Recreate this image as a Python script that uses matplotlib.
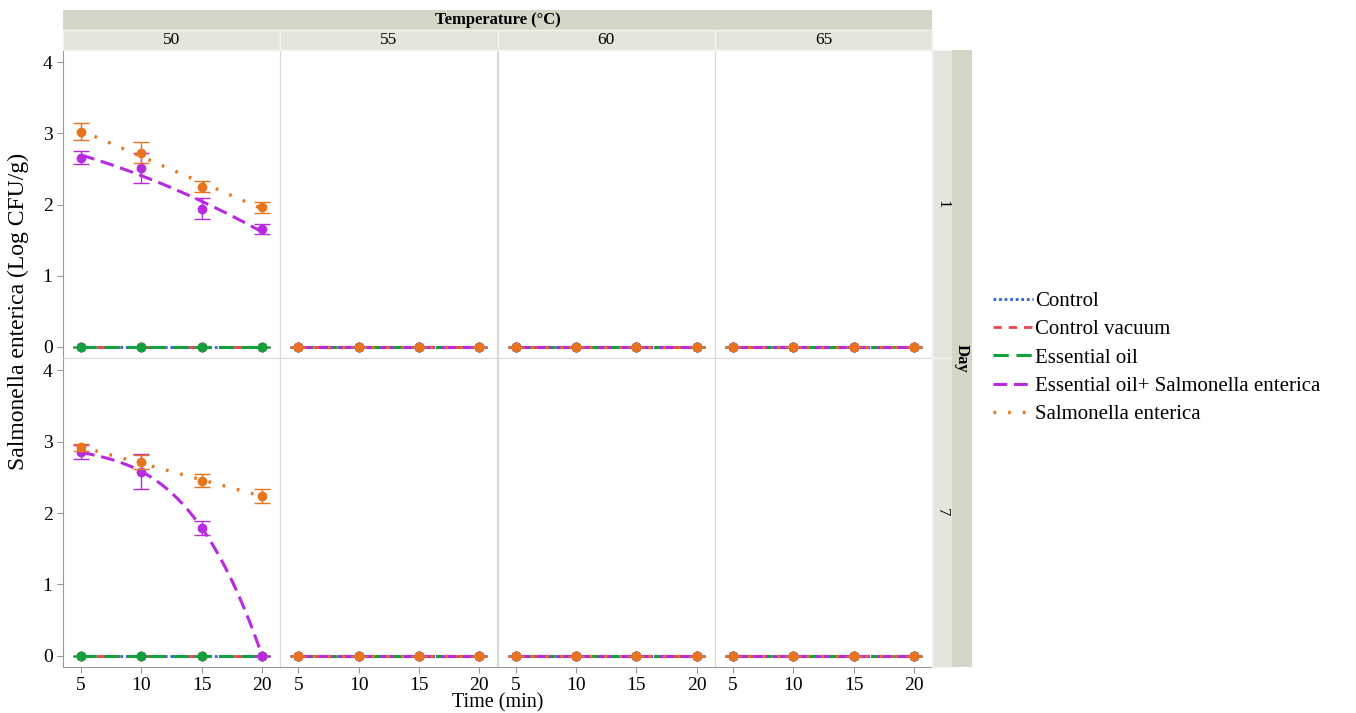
import numpy as np
import matplotlib.pyplot as plt
from matplotlib.lines import Line2D
from matplotlib.patches import Rectangle

plt.rcParams['font.family'] = ['Liberation Serif', 'DejaVu Serif']

# ---- data ----
temps = [50, 55, 60, 65]
days = [1, 7]
times = np.array([5, 10, 15, 20])
series = ['Control', 'Control vacuum', 'Essential oil',
          'Essential oil+ Salmonella enterica', 'Salmonella enterica']

# means at 50 C (everything else is zero)
eo_sal_d1 = [2.66, 2.51, 1.94, 1.65]
eo_sal_d1_sd = [0.09, 0.21, 0.15, 0.07]
sal_d1 = [3.02, 2.73, 2.25, 1.96]
sal_d1_sd = [0.12, 0.15, 0.08, 0.08]
eo_sal_d7 = [2.85, 2.58, 1.79, 0.0]
eo_sal_d7_sd = [0.10, 0.24, 0.10, 0.0]
sal_d7 = [2.92, 2.71, 2.45, 2.24]
sal_d7_sd = [0.05, 0.10, 0.09, 0.10]
zeros = [0.0, 0.0, 0.0, 0.0]

colors = ['#2E62DA', '#EE4350', '#12A13C', '#B82AE0', '#E8751E']
styles = [dict(dashes=(1.0, 1.0), lw=2.0),
          dict(dashes=(3.0, 2.5), lw=2.0),
          dict(dashes=(5.0, 2.5), lw=2.2),
          dict(dashes=(4.5, 2.2), lw=2.2),
          dict(dashes=(0.8, 3.6), lw=2.4)]


def get_data(temp, day):
    means = [zeros, zeros, zeros, zeros, zeros]
    sds = [zeros, zeros, zeros, zeros, zeros]
    deg = [2, 2, 2, 2, 2]
    if temp == 50:
        if day == 1:
            means[3], sds[3] = eo_sal_d1, eo_sal_d1_sd
            means[4], sds[4] = sal_d1, sal_d1_sd
        else:
            means[3], sds[3] = eo_sal_d7, eo_sal_d7_sd
            means[4], sds[4] = sal_d7, sal_d7_sd
            deg[3] = 3
    return means, sds, deg


W, H = 1356, 713
fig = plt.figure(figsize=(W / 100, H / 100), dpi=100)


def fx(px):
    return px / W


def fy(py):
    return 1 - py / H


left, right = 63, 932
col_w = (right - left) / 4
row_edges = [(50, 358), (358, 667)]
light = '#E5E5DD'
dark = '#D6D6C8'

xs = np.linspace(5, 20, 100)
for r, day in enumerate(days):
    top, bot = row_edges[r]
    for c, temp in enumerate(temps):
        ax = fig.add_axes([fx(left + c * col_w), fy(bot), col_w / W, (bot - top) / H])
        means, sds, deg = get_data(temp, day)
        for i in range(5):
            m = np.array(means[i])
            # smooth trend through the means
            fit = np.polyfit(times, m, deg[i])
            ax.plot(xs, np.polyval(fit, xs), color=colors[i], zorder=2 + i,
                    **styles[i])
            ax.errorbar(times, m, yerr=sds[i], fmt='o', color=colors[i], ms=6,
                        capsize=6, elinewidth=1.0, capthick=1.0, zorder=2.5 + i)
        ax.set_xlim(3.5, 21.5)
        ax.set_ylim(-0.155, 4.17)
        ax.set_xticks(times)
        ax.set_yticks([0, 1, 2, 3, 4])
        ax.tick_params(colors='#999999', labelcolor='black', labelsize=14,
                       length=4, width=0.8)
        for s in ['top', 'right']:
            ax.spines[s].set_color('#D9D9D9')
        ax.spines['left'].set_color('#D9D9D9' if c > 0 else '#999999')
        ax.spines['bottom'].set_color('#D9D9D9' if r == 0 else '#999999')
        if c > 0:
            ax.tick_params(axis='y', left=False, labelleft=False)
        if r == 0:
            ax.tick_params(axis='x', bottom=False, labelbottom=False)

# strips on top
fig.patches.append(Rectangle((fx(left), fy(30)), (right - left) / W, 20 / H,
                             transform=fig.transFigure, fc=dark, ec='none'))
fig.text(fx((left + right) / 2), fy(20), 'Temperature (\u00b0C)', ha='center',
         va='center', fontsize=12, fontweight='bold')
for c, temp in enumerate(temps):
    x0 = left + c * col_w
    fig.patches.append(Rectangle((fx(x0), fy(50)), col_w / W, 20 / H,
                                 transform=fig.transFigure, fc=light,
                                 ec='#F4F4F0', lw=1))
    fig.text(fx(x0 + col_w / 2), fy(40), str(temp), ha='center', va='center',
             fontsize=12.5)

# strips on right
for r, day in enumerate(days):
    top, bot = row_edges[r]
    fig.patches.append(Rectangle((fx(right), fy(bot)), 20 / W, (bot - top) / H,
                                 transform=fig.transFigure, fc=light,
                                 ec='#F4F4F0', lw=1))
    fig.text(fx(right + 10), fy((top + bot) / 2), str(day), ha='center',
             va='center', fontsize=12, rotation=-90)
fig.patches.append(Rectangle((fx(952), fy(667)), 20 / W, 617 / H,
                             transform=fig.transFigure, fc=dark, ec='none'))
fig.text(fx(962), fy(358), 'Day', ha='center', va='center', fontsize=12,
         fontweight='bold', rotation=-90)

# axis labels
fig.text(fx(18), fy(311), 'Salmonella enterica (Log CFU/g)', ha='center',
         va='center', rotation=90, fontsize=17)
fig.text(fx((left + right) / 2), fy(703), 'Time (min)', ha='center',
         va='center', fontsize=14.5)

# legend
handles = [Line2D([], [], color=colors[i], **styles[i]) for i in range(5)]
fig.legend(handles, series, loc='upper left', bbox_to_anchor=(fx(985), fy(283)),
           frameon=False, fontsize=15, handlelength=1.9, handletextpad=0.1,
           labelspacing=0.42, borderaxespad=0)

fig.savefig('out.png', dpi=100)
